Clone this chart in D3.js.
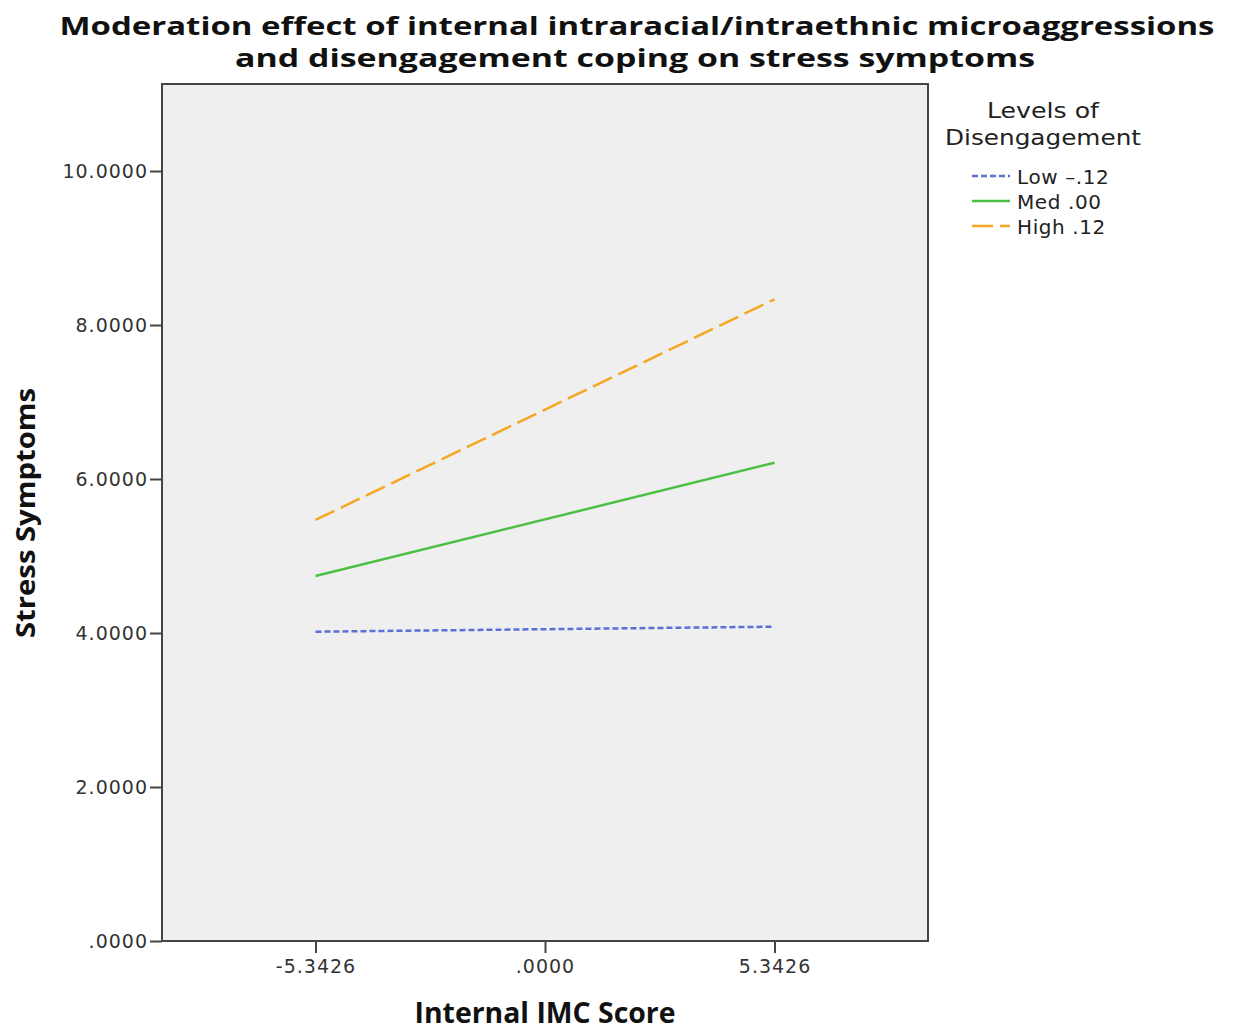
<!DOCTYPE html>
<html lang="en">
<head>
  <meta charset="UTF-8">
  <title>Moderation effect</title>
  <script src="https://cdn.jsdelivr.net/npm/d3@7"></script>
  <style>
    body {
      margin: 0;
      background: #fff;
    }

    svg {
      font-family: "DejaVu Sans", sans-serif;
    }
  </style>
</head>
<body>
<svg id="chart" width="1237" height="1030"></svg>
<script>
  // values
  let xTicks = [-5.3426, 0, 5.3426];
  let yTicks = [0, 2, 4, 6, 8, 10];
  let levels = ["Low -.12", "Med .00", "High .12"];
  let lowValues = [4.017, 4.082];
  let medValues = [4.740, 6.212];
  let highValues = [5.468, 8.334];
  let colors = ["#5b6fd6", "#4cbf45", "#f5a623"];
  let dashes = ["6,3", null, "21,7"];

  let series = [lowValues, medValues, highValues];

  let svg = d3.select("#chart");
  let plotL = 162, plotR = 928, plotT = 84, plotB = 941;

  let x = d3.scaleLinear().domain([-8.915, 8.915]).range([plotL, plotR]);
  let y = d3.scaleLinear().domain([0, 11.13]).range([plotB, plotT]);

  svg.append("rect")
      .attr("x", plotL).attr("y", plotT)
      .attr("width", plotR - plotL).attr("height", plotB - plotT)
      .attr("fill", "#efefef")
      .attr("stroke", "#444").attr("stroke-width", 2);

  let fmt = v => {
    let s = Math.abs(v).toFixed(4);
    if (s.startsWith("0")) s = s.slice(1);
    return (v < 0 ? "-" : "") + s;
  };

  let yAxis = svg.append("g")
      .attr("transform", `translate(${plotL},0)`)
      .call(d3.axisLeft(y).tickValues(yTicks).tickFormat(fmt).tickSize(12).tickPadding(2));
  yAxis.select(".domain").remove();

  let xAxis = svg.append("g")
      .attr("transform", `translate(0,${plotB})`)
      .call(d3.axisBottom(x).tickValues(xTicks).tickFormat(fmt).tickSize(12).tickPadding(7));
  xAxis.select(".domain").remove();

  svg.selectAll(".tick line").attr("stroke", "#444").attr("stroke-width", 2);
  svg.selectAll(".tick text")
      .attr("fill", "#333")
      .style("font-family", "DejaVu Sans")
      .style("font-size", "19px")
      .style("letter-spacing", "1px");

  let line = d3.line()
      .x((d, i) => x(xTicks[i === 0 ? 0 : 2]))
      .y(d => y(d));

  svg.selectAll(".series")
      .data(series)
      .join("path")
      .attr("class", "series")
      .attr("d", d => line(d))
      .attr("fill", "none")
      .attr("stroke", (d, i) => colors[i])
      .attr("stroke-width", 2.5)
      .attr("stroke-dasharray", (d, i) => dashes[i]);

  // titles
  let title = svg.append("text")
      .attr("text-anchor", "middle")
      .attr("font-family", "Open Sans")
      .attr("font-weight", "bold")
      .attr("font-size", 25)
      .attr("fill", "#111");
  title.append("tspan").attr("x", 637).attr("y", 35)
      .attr("textLength", 1155).attr("lengthAdjust", "spacingAndGlyphs")
      .text("Moderation effect of internal intraracial/intraethnic microaggressions");
  title.append("tspan").attr("x", 635).attr("y", 67)
      .attr("textLength", 800).attr("lengthAdjust", "spacingAndGlyphs")
      .text("and disengagement coping on stress symptoms");

  svg.append("text")
      .attr("x", 545).attr("y", 1023)
      .attr("text-anchor", "middle")
      .attr("font-family", "Liberation Sans Narrow, Open Sans")
      .attr("font-weight", "bold")
      .attr("font-size", 29)
      .attr("textLength", 261).attr("lengthAdjust", "spacingAndGlyphs")
      .attr("fill", "#111")
      .text("Internal IMC Score");

  svg.append("text")
      .attr("transform", "translate(35,513) rotate(-90)")
      .attr("text-anchor", "middle")
      .attr("font-family", "Open Sans")
      .attr("font-weight", "bold")
      .attr("font-size", 27)
      .attr("textLength", 250).attr("lengthAdjust", "spacingAndGlyphs")
      .attr("fill", "#111")
      .text("Stress Symptoms");

  // legend
  let legend = svg.append("g");
  legend.append("text")
      .attr("x", 1043).attr("y", 118)
      .attr("text-anchor", "middle")
      .attr("font-size", 22).attr("fill", "#222")
      .attr("textLength", 112).attr("lengthAdjust", "spacingAndGlyphs")
      .text("Levels of");
  legend.append("text")
      .attr("x", 1043).attr("y", 145)
      .attr("text-anchor", "middle")
      .attr("font-size", 22).attr("fill", "#222")
      .attr("textLength", 196).attr("lengthAdjust", "spacingAndGlyphs")
      .text("Disengagement");

  let items = legend.selectAll(".item")
      .data(levels)
      .join("g")
      .attr("class", "item")
      .attr("transform", (d, i) => `translate(0,${176 + i * 25})`);
  items.append("line")
      .attr("x1", 972).attr("x2", 1010)
      .attr("stroke", (d, i) => colors[i])
      .attr("stroke-width", 2.5)
      .attr("stroke-dasharray", (d, i) => dashes[i]);
  items.append("text")
      .attr("x", 1017).attr("y", 8)
      .attr("font-size", 20).attr("fill", "#222")
      .style("letter-spacing", "0.6px")
      .text(d => d.replace("-", "\u2013"));
</script>
</body>
</html>
